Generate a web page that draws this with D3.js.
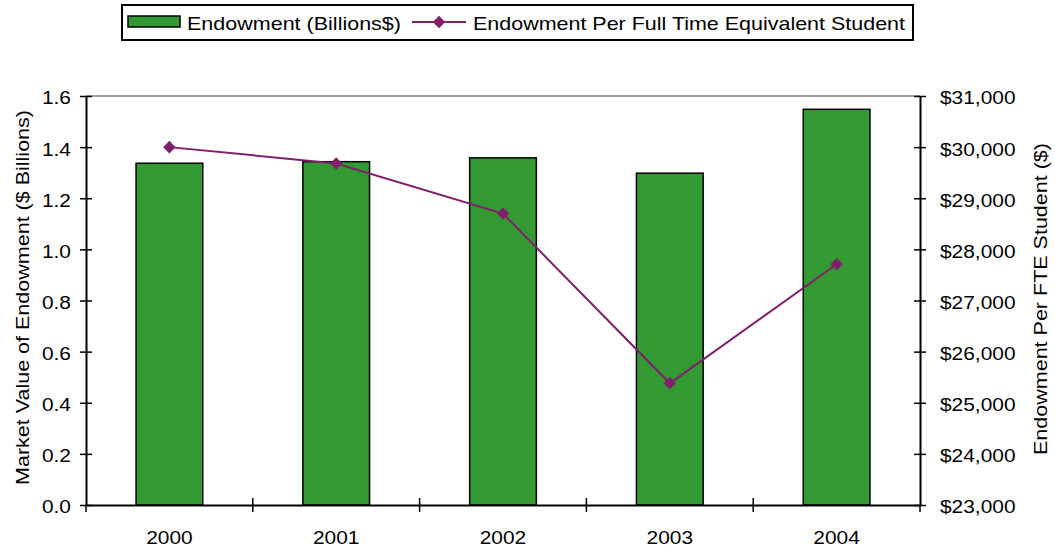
<!DOCTYPE html>
<html>
<head>
<meta charset="utf-8">
<script src="https://cdn.jsdelivr.net/npm/d3@7"></script>
<style>
  html, body { margin: 0; padding: 0; background: #fff; }
  svg { display: block; font-family: "Liberation Sans", Arial, sans-serif; }
</style>
</head>
<body>
<svg id="chart" width="1055" height="552"></svg>
<script>
// Fiscal years and the two measured series
const years = ["2000", "2001", "2002", "2003", "2004"];
const endowmentBillions = [1.337, 1.343, 1.358, 1.298, 1.548];
const perStudent = [30000, 29680, 28700, 25380, 27710];
const leftTicks = [0, 0.2, 0.4, 0.6, 0.8, 1.0, 1.2, 1.4, 1.6];
const rightTicks = [23000, 24000, 25000, 26000, 27000, 28000, 29000, 30000, 31000];

const svg = d3.select("#chart");
const plot = { left: 86, right: 920, top: 96, bottom: 505 };
const barColor = "#339933";
const lineColor = "#80206a";
const fontSize = 19;
const widen = 1.1; // horizontal stretch for labels

const x = d3.scaleBand().domain(years).range([plot.left, plot.right]).paddingInner(0).paddingOuter(0);
const yL = d3.scaleLinear().domain([0, 1.6]).range([plot.bottom, plot.top]);
const yR = d3.scaleLinear().domain([23000, 31000]).range([plot.bottom, plot.top]);

// Top frame line
svg.append("line")
  .attr("x1", plot.left).attr("x2", plot.right)
  .attr("y1", plot.top).attr("y2", plot.top)
  .attr("stroke", "#808080").attr("stroke-width", 1.5);

// Bars
const barW = x.bandwidth() * 0.4;
svg.append("g").selectAll("rect").data(years).join("rect")
  .attr("x", d => x(d) + (x.bandwidth() - barW) / 2)
  .attr("y", (d, i) => yL(endowmentBillions[i]))
  .attr("width", barW)
  .attr("height", (d, i) => plot.bottom - yL(endowmentBillions[i]))
  .attr("fill", barColor)
  .attr("stroke", "#000").attr("stroke-width", 1.5);

// Left axis
const gL = svg.append("g").attr("transform", `translate(${plot.left},0)`)
  .call(d3.axisLeft(yL).tickValues(leftTicks).tickFormat(d3.format(".1f")).tickSizeInner(6).tickSizeOuter(0));
gL.selectAll(".tick line").attr("x1", 6).attr("x2", -6).attr("stroke-width", 1.5);
gL.select(".domain").attr("stroke-width", 2);
gL.selectAll("text").attr("x", 0).attr("dy", "0.42em")
  .attr("transform", `translate(-15,0) scale(${widen},1)`)
  .attr("font-size", fontSize).attr("fill", "#000");

// Right axis
const gR = svg.append("g").attr("transform", `translate(${plot.right},0)`)
  .call(d3.axisRight(yR).tickValues(rightTicks).tickFormat(d => "$" + d3.format(",")(d)).tickSizeInner(6).tickSizeOuter(0));
gR.selectAll(".tick line").attr("x1", -6).attr("x2", 6).attr("stroke-width", 1.5);
gR.select(".domain").attr("stroke-width", 2);
gR.selectAll("text").attr("x", 0).attr("dy", "0.42em")
  .attr("transform", `translate(20,0) scale(${widen},1)`)
  .attr("font-size", fontSize).attr("fill", "#000");

// Bottom axis with ticks at category boundaries
const gB = svg.append("g").attr("transform", `translate(0,${plot.bottom})`)
  .call(d3.axisBottom(x).tickSize(0).tickSizeOuter(0));
gB.select(".domain").attr("stroke-width", 2);
gB.selectAll("text").attr("y", 0).attr("dy", 0)
  .attr("transform", `translate(0,39) scale(${widen},1)`)
  .attr("font-size", fontSize).attr("fill", "#000");
const boundaries = years.map(d => x(d)).concat([plot.right]);
gB.selectAll(".bound").data(boundaries).join("line")
  .attr("class", "bound")
  .attr("x1", d => d).attr("x2", d => d)
  .attr("y1", (d, i) => (i === 0 || i === boundaries.length - 1) ? 0 : -7)
  .attr("y2", 7)
  .attr("stroke", "#000").attr("stroke-width", 1.5);

// Per-student line with diamond markers
const line = d3.line()
  .x((d, i) => x(years[i]) + x.bandwidth() / 2)
  .y(d => yR(d));
svg.append("path").datum(perStudent)
  .attr("d", line).attr("fill", "none")
  .attr("stroke", lineColor).attr("stroke-width", 2);
const diamond = d3.symbol().type(d3.symbolDiamond2).size(100);
svg.append("g").selectAll("path").data(perStudent).join("path")
  .attr("d", diamond)
  .attr("transform", (d, i) => `translate(${x(years[i]) + x.bandwidth() / 2},${yR(d)})`)
  .attr("fill", lineColor);

// Axis titles
svg.append("text")
  .attr("transform", "translate(29,297.5) rotate(-90)")
  .attr("text-anchor", "middle").attr("font-size", fontSize)
  .attr("textLength", 375).attr("lengthAdjust", "spacingAndGlyphs")
  .text("Market Value of Endowment ($ Billions)");
svg.append("text")
  .attr("transform", "translate(1047,299) rotate(-90)")
  .attr("text-anchor", "middle").attr("font-size", fontSize)
  .attr("textLength", 312).attr("lengthAdjust", "spacingAndGlyphs")
  .text("Endowment Per FTE Student ($)");

// Legend
const lg = svg.append("g");
lg.append("rect").attr("x", 122).attr("y", 5).attr("width", 791).attr("height", 35)
  .attr("fill", "#fff").attr("stroke", "#000").attr("stroke-width", 2);
lg.append("rect").attr("x", 128).attr("y", 16).attr("width", 52).attr("height", 11)
  .attr("fill", barColor).attr("stroke", "#000").attr("stroke-width", 1.5);
lg.append("text").attr("x", 187).attr("y", 29.5).attr("font-size", fontSize)
  .attr("textLength", 214).attr("lengthAdjust", "spacingAndGlyphs")
  .text("Endowment (Billions$)");
lg.append("line").attr("x1", 412).attr("x2", 466).attr("y1", 22).attr("y2", 22)
  .attr("stroke", lineColor).attr("stroke-width", 2);
lg.append("path").attr("d", diamond).attr("transform", "translate(439,22)").attr("fill", lineColor);
lg.append("text").attr("x", 473).attr("y", 29.5).attr("font-size", fontSize)
  .attr("textLength", 432).attr("lengthAdjust", "spacingAndGlyphs")
  .text("Endowment Per Full Time Equivalent Student");
</script>
</body>
</html>
